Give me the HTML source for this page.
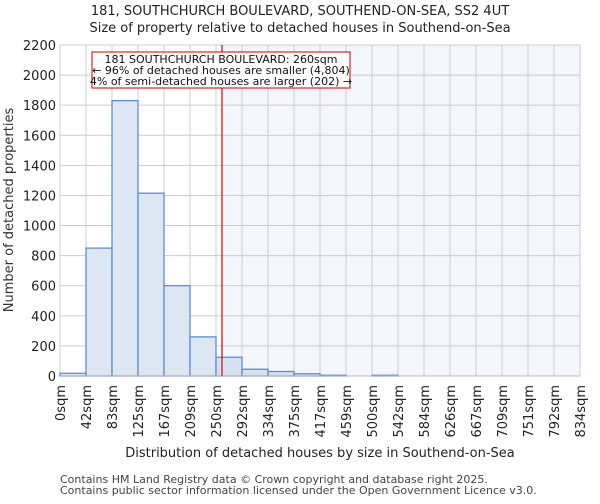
<!DOCTYPE html>
<html><head><meta charset="utf-8"><style>
body{margin:0;background:#fff;font-family:"DejaVu Sans","Liberation Sans",sans-serif}
</style></head><body>
<svg id="chart" width="600" height="500" xmlns="http://www.w3.org/2000/svg" font-family="DejaVu Sans, Liberation Sans, sans-serif">
<text x="300" y="15" text-anchor="middle" font-size="13" fill="#222">181, SOUTHCHURCH BOULEVARD, SOUTHEND-ON-SEA, SS2 4UT</text>
<text x="300" y="32" text-anchor="middle" font-size="13" fill="#222">Size of property relative to detached houses in Southend-on-Sea</text>
<g id="plot"></g>
<text transform="translate(13,210) rotate(-90)" text-anchor="middle" font-size="13" fill="#333">Number of detached properties</text>
<text x="320" y="457" text-anchor="middle" font-size="13" fill="#222">Distribution of detached houses by size in Southend-on-Sea</text>
<text x="60" y="483" font-size="11" fill="#444">Contains HM Land Registry data © Crown copyright and database right 2025.</text>
<text x="60" y="494" font-size="11" fill="#444">Contains public sector information licensed under the Open Government Licence v3.0.</text>
</svg>
<script>
const binLabels=["0sqm","42sqm","83sqm","125sqm","167sqm","209sqm","250sqm","292sqm","334sqm","375sqm","417sqm","459sqm","500sqm","542sqm","584sqm","626sqm","667sqm","709sqm","751sqm","792sqm","834sqm"];
const counts=[18,850,1830,1215,600,260,125,45,30,15,5,0,5,0,0,0,0,0,0,0];
const yTicks=[0,200,400,600,800,1000,1200,1400,1600,1800,2000,2200];
const markerBin=6.23;
const X0=60,X1=580,Y0=376,Y1=45,YMAX=2200;
const nb=counts.length;
const x=i=>X0+(X1-X0)*i/nb;
const y=v=>Y0-(Y0-Y1)*v/YMAX;
const ns="http://www.w3.org/2000/svg";
const g=document.getElementById('plot');
function mk(t,a){const e=document.createElementNS(ns,t);for(const k in a)e.setAttribute(k,a[k]);g.appendChild(e);return e;}
const bg=mk('rect',{x:X0,y:Y1,width:X1-X0,height:Y0-Y1,fill:'#fff'});


const sh=mk('rect',{x:x(markerBin),y:Y1,width:X1-x(markerBin),height:Y0-Y1,fill:'#f3f6fd'});


yTicks.forEach(v=>{
 const l=mk('line',{x1:X0,x2:X1,y1:y(v),y2:y(v),stroke:'#ccc','stroke-width':1});
 
 
 const t=mk('text',{x:X0-4,y:y(v)+5,'text-anchor':'end','font-size':13,fill:'#222'});
 t.textContent=v;
 
 
});
binLabels.forEach((s,i)=>{
 const l=mk('line',{x1:x(i),x2:x(i),y1:Y1,y2:Y0,stroke:'#ccc','stroke-width':1});
 
 
 const t=mk('text',{transform:`translate(${x(i)+5},${Y0+9}) rotate(-90)`,'text-anchor':'end','font-size':13,fill:'#222'});
 t.textContent=s;
 
 
});
counts.forEach((c,i)=>{
 if(c<=0)return;
 const r=mk('rect',{x:x(i),y:y(c),width:x(i+1)-x(i),height:Y0-y(c),fill:i>=6?'#d5e1f3':'#dde6f3',stroke:'#5a8fd6','stroke-width':1.3});
 
 
});
const ax=mk('line',{x1:X0,x2:X1,y1:Y0,y2:Y0,stroke:'#bbb','stroke-width':1});


const ml=mk('line',{x1:x(markerBin),x2:x(markerBin),y1:Y1,y2:Y0,stroke:'#d00','stroke-width':1.2});


const box=mk('rect',{x:92,y:52,width:258,height:36,fill:'#fff',stroke:'#c00','stroke-width':1});


["181 SOUTHCHURCH BOULEVARD: 260sqm","← 96% of detached houses are smaller (4,804)","4% of semi-detached houses are larger (202) →"].forEach((s,i)=>{
 const t=mk('text',{x:221,y:63+i*11,'text-anchor':'middle','font-size':11,fill:'#111'});
 t.textContent=s;
 
 
});
</script>
</body></html>
